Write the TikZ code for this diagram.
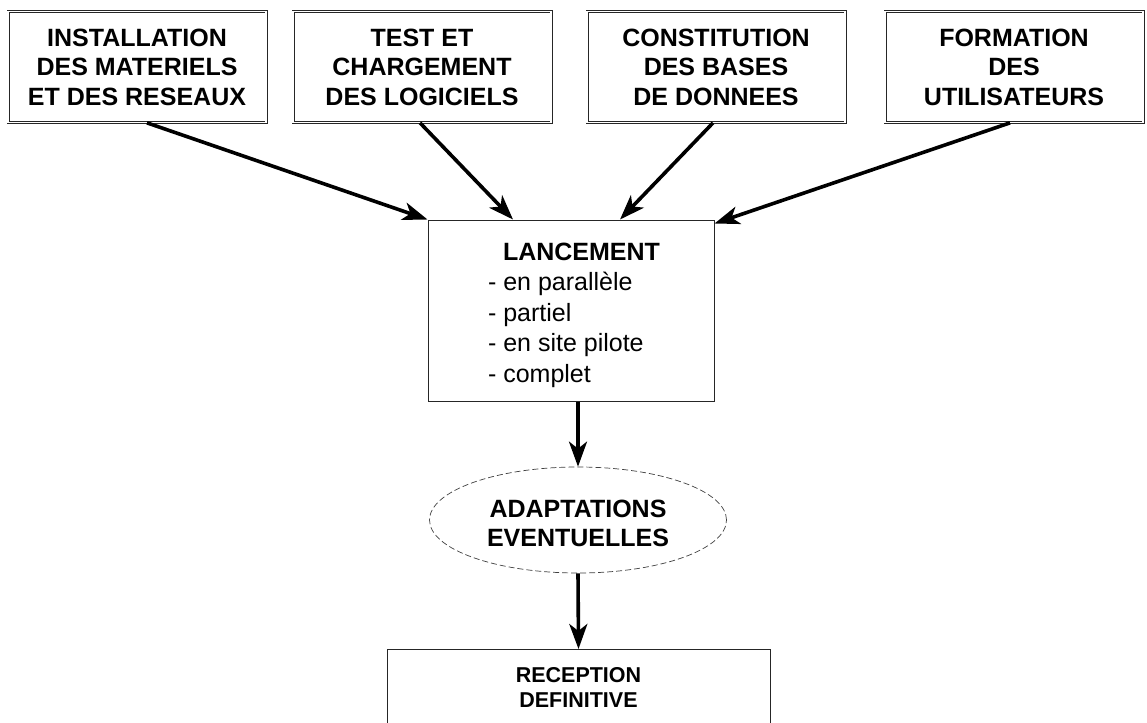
\documentclass[tikz,border=0pt]{standalone}
\usepackage{fontspec}
\setmainfont{Liberation Sans}
\usetikzlibrary{arrows.meta,shapes.geometric}
\begin{document}
\begin{tikzpicture}[x=1pt,y=-1pt,
  topbox/.style={draw=black!85,double,double distance=1.6pt,line width=0.7pt,
    minimum width=258pt,minimum height=111pt,inner sep=0pt,align=center,
    font=\fontsize{25}{29.5}\selectfont\bfseries},
  mainbox/.style={draw=black!85,line width=1pt,minimum width=286pt,minimum height=181pt,
    inner sep=0pt},
  maintext/.style={inner sep=0pt,align=left,font=\fontsize{25}{30.5}\selectfont},
  adapt/.style={ellipse,draw=black!75,dashed,dash pattern=on 6pt off 3pt,line width=0.7pt,
    minimum width=297pt,minimum height=106pt,inner sep=0pt},
  adapttext/.style={inner sep=0pt,align=center,font=\fontsize{25}{29}\selectfont\bfseries},
  endbox/.style={draw=black!85,line width=1pt,minimum width=383pt,
    inner xsep=0pt,inner ysep=18pt,align=center,
    font=\fontsize{21.5}{25}\selectfont\bfseries},
  flow/.style={line width=3.6pt,-{Stealth[length=25pt,width=18pt,inset=7pt]}}]
\useasboundingbox (0,0) rectangle (1147,722);
\fill[white] (0,0) rectangle (1147,722);

% four preparation steps
\node[topbox] (b1) at (137,67) {INSTALLATION\\DES MATERIELS\\ET DES RESEAUX};
\node[topbox] (b2) at (422,67) {TEST ET\\CHARGEMENT\\DES LOGICIELS};
\node[topbox] (b3) at (716,67) {CONSTITUTION\\DES BASES\\DE DONNEES};
\node[topbox] (b4) at (1014,67) {FORMATION\\DES\\UTILISATEURS};

% launch
\node[mainbox] (lan) at (571,310.5) {};
\node[maintext] (lantext) at (574,315) {\hspace*{15pt}\textbf{LANCEMENT}\\- en parallèle\\- partiel\\- en site pilote\\- complet};

% adjustments and final acceptance
\node[adapt] (ell) at (578,520) {};
\node[adapttext] (elltext) at (578,523) {ADAPTATIONS\\EVENTUELLES};
\node[endbox,anchor=north] (rec) at (578.5,649) {RECEPTION\\DEFINITIVE};

% connectors
\draw[flow] ([xshift=10pt]b1.south) -- (lan.north west);
\draw[flow] ([xshift=-2pt]b2.south) -- ([xshift=-58pt]lan.north);
\draw[flow] ([xshift=-3pt]b3.south) -- ([xshift=49pt]lan.north);
\draw[flow] ([xshift=-4pt]b4.south) -- ([yshift=-4pt]lan.north east);
\draw[flow] ([xshift=7pt]lan.south) -- (ell.north);
\draw[flow] (ell.south) -- (rec.north);
\end{tikzpicture}
\end{document}
